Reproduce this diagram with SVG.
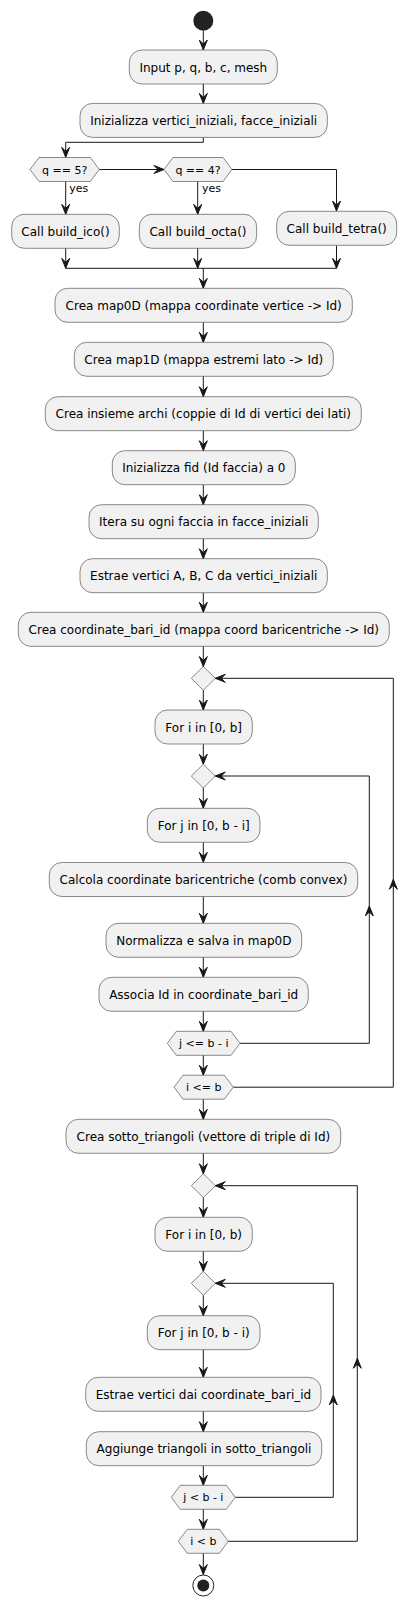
<svg xmlns="http://www.w3.org/2000/svg" xmlns:xlink="http://www.w3.org/1999/xlink" width="418" height="1605" viewBox="0 0 418 1605">
<style>
.box{fill:#F1F1F1;stroke:#181818;stroke-width:0.5}
.t{font-family:"DejaVu Sans",sans-serif;font-size:12px;fill:#000;text-anchor:middle}
.th{font-family:"DejaVu Sans",sans-serif;font-size:11px;fill:#000;text-anchor:middle}
.ty{font-family:"DejaVu Sans",sans-serif;font-size:11px;fill:#000}
.ln{fill:none;stroke:#181818;stroke-width:1}
.ah{fill:#181818;stroke:#181818;stroke-width:1}
</style>
<defs>
<path id="ah" class="ah" d="M0,0 L-4,-10 L0,-6 L4,-10 Z"/>
</defs>
<rect width="418" height="1605" fill="#FFFFFF"/>
<g id="connectors">
<path class="ln" d="M203.3,30.7 V50"/><use href="#ah" transform="translate(203.3,50)"/>
<path class="ln" d="M203.3,84 V103.4"/><use href="#ah" transform="translate(203.3,103.4)"/>
<path class="ln" d="M203.3,137.4 V142.3 H65.7 V157.3"/><use href="#ah" transform="translate(65.7,157.3)"/>
<path class="ln" d="M99.3,169.5 H164"/><use href="#ah" transform="translate(164,169.5) rotate(-90)"/>
<path class="ln" d="M65.7,181.5 V214.3"/><use href="#ah" transform="translate(65.7,214.3)"/>
<path class="ln" d="M197.7,181.5 V214.3"/><use href="#ah" transform="translate(197.7,214.3)"/>
<path class="ln" d="M232,169.5 H336.5 V211"/><use href="#ah" transform="translate(336.5,211)"/>
<path class="ln" d="M65.7,248.3 V268.3"/><use href="#ah" transform="translate(65.7,268.3)"/>
<path class="ln" d="M197.7,248.3 V268.3"/><use href="#ah" transform="translate(197.7,268.3)"/>
<path class="ln" d="M336.5,245.7 V268.3"/><use href="#ah" transform="translate(336.5,268.3)"/>
<path class="ln" d="M65.7,268.3 H336.5"/>
<path class="ln" d="M203.3,268.3 V288.3"/><use href="#ah" transform="translate(203.3,288.3)"/>
<path class="ln" d="M203.3,322.3 V342.3"/><use href="#ah" transform="translate(203.3,342.3)"/>
<path class="ln" d="M203.3,376.3 V396.7"/><use href="#ah" transform="translate(203.3,396.7)"/>
<path class="ln" d="M203.3,430.7 V450.7"/><use href="#ah" transform="translate(203.3,450.7)"/>
<path class="ln" d="M203.3,484.7 V504.7"/><use href="#ah" transform="translate(203.3,504.7)"/>
<path class="ln" d="M203.3,538.7 V558.7"/><use href="#ah" transform="translate(203.3,558.7)"/>
<path class="ln" d="M203.3,592.7 V612.3"/><use href="#ah" transform="translate(203.3,612.3)"/>
<path class="ln" d="M203.3,646.3 V666.5"/><use href="#ah" transform="translate(203.3,666.5)"/>
<path class="ln" d="M203.3,690.3 V710"/><use href="#ah" transform="translate(203.3,710)"/>
<path class="ln" d="M203.3,744.3 V764.2"/><use href="#ah" transform="translate(203.3,764.2)"/>
<path class="ln" d="M203.3,788 V808.3"/><use href="#ah" transform="translate(203.3,808.3)"/>
<path class="ln" d="M203.3,842.3 V862.3"/><use href="#ah" transform="translate(203.3,862.3)"/>
<path class="ln" d="M203.3,896.5 V923.3"/><use href="#ah" transform="translate(203.3,923.3)"/>
<path class="ln" d="M203.3,957.3 V977.3"/><use href="#ah" transform="translate(203.3,977.3)"/>
<path class="ln" d="M203.3,1011.3 V1031.3"/><use href="#ah" transform="translate(203.3,1031.3)"/>
<path class="ln" d="M203.3,1055.3 V1075.2"/><use href="#ah" transform="translate(203.3,1075.2)"/>
<path class="ln" d="M203.3,1099.3 V1119.3"/><use href="#ah" transform="translate(203.3,1119.3)"/>
<path class="ln" d="M203.3,1153.3 V1173.7"/><use href="#ah" transform="translate(203.3,1173.7)"/>
<path class="ln" d="M203.3,1197.7 V1217.3"/><use href="#ah" transform="translate(203.3,1217.3)"/>
<path class="ln" d="M203.3,1251.3 V1271.3"/><use href="#ah" transform="translate(203.3,1271.3)"/>
<path class="ln" d="M203.3,1295.3 V1315.7"/><use href="#ah" transform="translate(203.3,1315.7)"/>
<path class="ln" d="M203.3,1349.7 V1377.3"/><use href="#ah" transform="translate(203.3,1377.3)"/>
<path class="ln" d="M203.3,1411.3 V1431.7"/><use href="#ah" transform="translate(203.3,1431.7)"/>
<path class="ln" d="M203.3,1465.7 V1485.3"/><use href="#ah" transform="translate(203.3,1485.3)"/>
<path class="ln" d="M203.3,1509.3 V1529.3"/><use href="#ah" transform="translate(203.3,1529.3)"/>
<path class="ln" d="M203.3,1553.3 V1574.5"/><use href="#ah" transform="translate(203.3,1574.5)"/>
<path class="ln" d="M233.3,1087.2 H393.3 V678.3 H215.3"/><use href="#ah" transform="translate(215.3,678.3) rotate(90)"/><use href="#ah" transform="translate(393.3,879.3) rotate(180)"/>
<path class="ln" d="M240,1043.3 H369.3 V776 H215.3"/><use href="#ah" transform="translate(215.3,776) rotate(90)"/><use href="#ah" transform="translate(369.3,906) rotate(180)"/>
<path class="ln" d="M228.3,1541.3 H357.3 V1185.7 H215.3"/><use href="#ah" transform="translate(215.3,1185.7) rotate(90)"/><use href="#ah" transform="translate(357.3,1358.3) rotate(180)"/>
<path class="ln" d="M235.3,1497.3 H333.3 V1283.3 H215.3"/><use href="#ah" transform="translate(215.3,1283.3) rotate(90)"/><use href="#ah" transform="translate(333.3,1395) rotate(180)"/>
</g>
<g id="start"><circle cx="203.3" cy="20.7" r="10" fill="#222222"/></g>
<g id="n_input"><rect class="box" x="129.3" y="50" width="148" height="34" rx="12.5"/><text class="t" x="203.3" y="71.5">Input p, q, b, c, mesh</text></g>
<g id="n_init"><rect class="box" x="80" y="103.4" width="247.3" height="34" rx="12.5"/><text class="t" x="203.7" y="124.9">Inizializza vertici_iniziali, facce_iniziali</text></g>
<g id="d_q5"><polygon class="box" points="30,169.5 39,157.5 90.3,157.5 99.3,169.5 90.3,181.5 39,181.5"/><text class="th" x="64.7" y="173.5">q == 5?</text></g>
<g id="l_yes1"><text class="ty" x="69.3" y="191.7">yes</text></g>
<g id="d_q4"><polygon class="box" points="164,169.5 173,157.5 223,157.5 232,169.5 223,181.5 173,181.5"/><text class="th" x="198" y="173.5">q == 4?</text></g>
<g id="l_yes2"><text class="ty" x="202" y="191.7">yes</text></g>
<g id="n_ico"><rect class="box" x="11.7" y="214.3" width="107.6" height="34" rx="12.5"/><text class="t" x="65.5" y="235.8">Call build_ico()</text></g>
<g id="n_octa"><rect class="box" x="139.3" y="214.3" width="117.4" height="34" rx="12.5"/><text class="t" x="198" y="235.8">Call build_octa()</text></g>
<g id="n_tetra"><rect class="box" x="276.7" y="211.3" width="120" height="34" rx="12.5"/><text class="t" x="336.7" y="232.8">Call build_tetra()</text></g>
<g id="n_map0d"><rect class="box" x="55" y="288.3" width="297.3" height="34" rx="12.5"/><text class="t" x="203.7" y="309.8">Crea map0D (mappa coordinate vertice -&gt; Id)</text></g>
<g id="n_map1d"><rect class="box" x="74.3" y="342.3" width="259" height="34" rx="12.5"/><text class="t" x="203.8" y="363.8">Crea map1D (mappa estremi lato -&gt; Id)</text></g>
<g id="n_archi"><rect class="box" x="45.3" y="396.7" width="316" height="34" rx="12.5"/><text class="t" x="203.3" y="418.2">Crea insieme archi (coppie di Id di vertici dei lati)</text></g>
<g id="n_fid"><rect class="box" x="112.3" y="450.7" width="183" height="34" rx="12.5"/><text class="t" x="203.8" y="472.2">Inizializza fid (Id faccia) a 0</text></g>
<g id="n_itera"><rect class="box" x="89" y="504.7" width="229.3" height="34" rx="12.5"/><text class="t" x="203.7" y="526.2">Itera su ogni faccia in facce_iniziali</text></g>
<g id="n_estraeabc"><rect class="box" x="80" y="558.7" width="247.3" height="34" rx="12.5"/><text class="t" x="203.7" y="580.2">Estrae vertici A, B, C da vertici_iniziali</text></g>
<g id="n_cbid"><rect class="box" x="18.3" y="612.3" width="371" height="34" rx="12.5"/><text class="t" x="203.8" y="633.8">Crea coordinate_bari_id (mappa coord baricentriche -&gt; Id)</text></g>
<g id="m_loop1"><polygon class="box" points="203.3,666.5 215.3,678.3 203.3,690.3 191.3,678.3"/></g>
<g id="n_fori1"><rect class="box" x="155" y="710" width="97.3" height="34" rx="12.5"/><text class="t" x="203.7" y="731.5">For i in [0, b]</text></g>
<g id="m_loop2"><polygon class="box" points="203.3,764.2 215.3,776 203.3,788 191.3,776"/></g>
<g id="n_forj1"><rect class="box" x="147.3" y="808.3" width="112.7" height="34" rx="12.5"/><text class="t" x="203.7" y="829.8">For j in [0, b - i]</text></g>
<g id="n_calcola"><rect class="box" x="49.3" y="862.5" width="308.4" height="34" rx="12.5"/><text class="t" x="203.5" y="884">Calcola coordinate baricentriche (comb convex)</text></g>
<g id="n_norm"><rect class="box" x="106" y="923.3" width="195.7" height="34" rx="12.5"/><text class="t" x="203.8" y="944.8">Normalizza e salva in map0D</text></g>
<g id="n_associa"><rect class="box" x="99" y="977.3" width="209.3" height="34" rx="12.5"/><text class="t" x="203.7" y="998.8">Associa Id in coordinate_bari_id</text></g>
<g id="d_jle"><polygon class="box" points="167.3,1043.3 176.3,1031.3 231,1031.3 240,1043.3 231,1055.3 176.3,1055.3"/><text class="th" x="203.7" y="1047.3">j &lt;= b - i</text></g>
<g id="d_ile"><polygon class="box" points="174,1087.2 183,1075.2 224.3,1075.2 233.3,1087.2 224.3,1099.2 183,1099.2"/><text class="th" x="203.7" y="1091.2">i &lt;= b</text></g>
<g id="n_sotto"><rect class="box" x="66" y="1119.3" width="274.7" height="34" rx="12.5"/><text class="t" x="203.4" y="1140.8">Crea sotto_triangoli (vettore di triple di Id)</text></g>
<g id="m_loop3"><polygon class="box" points="203.3,1173.7 215.3,1185.7 203.3,1197.7 191.3,1185.7"/></g>
<g id="n_fori2"><rect class="box" x="155" y="1217.3" width="97.3" height="34" rx="12.5"/><text class="t" x="203.7" y="1238.8">For i in [0, b)</text></g>
<g id="m_loop4"><polygon class="box" points="203.3,1271.3 215.3,1283.3 203.3,1295.3 191.3,1283.3"/></g>
<g id="n_forj2"><rect class="box" x="147.3" y="1315.7" width="112.7" height="34" rx="12.5"/><text class="t" x="203.7" y="1337.2">For j in [0, b - i)</text></g>
<g id="n_estraedai"><rect class="box" x="85.7" y="1377.3" width="235.3" height="34" rx="12.5"/><text class="t" x="203.4" y="1398.8">Estrae vertici dai coordinate_bari_id</text></g>
<g id="n_aggiunge"><rect class="box" x="86.3" y="1431.7" width="235.4" height="34" rx="12.5"/><text class="t" x="204" y="1453.2">Aggiunge triangoli in sotto_triangoli</text></g>
<g id="d_jlt"><polygon class="box" points="171.3,1497.3 180.3,1485.3 226.3,1485.3 235.3,1497.3 226.3,1509.3 180.3,1509.3"/><text class="th" x="203.3" y="1501.3">j &lt; b - i</text></g>
<g id="d_ilt"><polygon class="box" points="178.3,1541.3 187.3,1529.3 219.3,1529.3 228.3,1541.3 219.3,1553.3 187.3,1553.3"/><text class="th" x="203.3" y="1545.3">i &lt; b</text></g>
<g id="end"><circle cx="203.3" cy="1585.5" r="10.5" fill="none" stroke="#222222" stroke-width="1"/><circle cx="203.3" cy="1585.5" r="6" fill="#222222"/></g>
</svg>
